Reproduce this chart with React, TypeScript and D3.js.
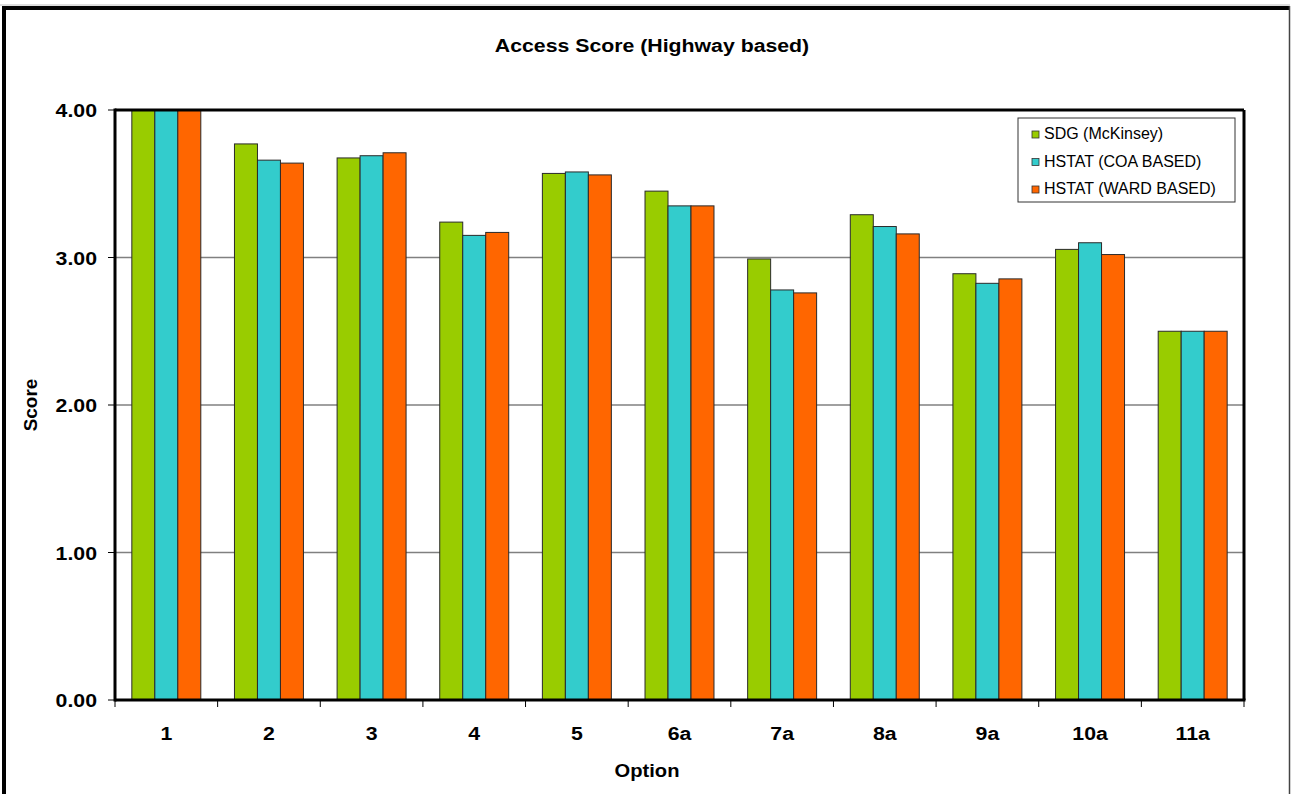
import React from "react";
import * as d3 from "d3";

const categories = ["1", "2", "3", "4", "5", "6a", "7a", "8a", "9a", "10a", "11a"];
const seriesNames = ["SDG (McKinsey)", "HSTAT (COA BASED)", "HSTAT (WARD BASED)"];
const sdg = [4.0, 3.77, 3.675, 3.24, 3.57, 3.45, 2.99, 3.29, 2.89, 3.055, 2.5];
const coa = [4.0, 3.66, 3.69, 3.15, 3.58, 3.35, 2.78, 3.21, 2.825, 3.1, 2.5];
const ward = [4.0, 3.64, 3.71, 3.17, 3.56, 3.35, 2.76, 3.16, 2.855, 3.02, 2.5];
const colors = ["#99CC00", "#33CCCC", "#FF6600"];
const yTicks = [0, 1, 2, 3, 4];

const font = "'Liberation Sans', Arial, sans-serif";

function SText(props: { x: number; y: number; size: number; anchor?: string; sx?: number; rot?: number; weight?: string; children: React.ReactNode }) {
  const { x, y, size, anchor = "middle", sx = 1.12, rot = 0, weight = "bold", children } = props;
  return (
    <text
      transform={`translate(${x},${y}) rotate(${rot}) scale(${sx},1)`}
      textAnchor={anchor as any}
      fontFamily={font}
      fontWeight={weight}
      fontSize={size}
      fill="#000"
    >
      {children}
    </text>
  );
}

export default function App() {
  const W = 1296, H = 794;
  const left = 115, right = 1244, top = 110, bottom = 700;
  const x = d3.scaleBand<string>().domain(categories).range([left, right]).paddingInner(0).paddingOuter(0);
  const groupFrac = 0.672;
  const inner = d3.scaleBand<number>().domain([0, 1, 2]).range([0, x.bandwidth() * groupFrac]);
  const offset = (x.bandwidth() - x.bandwidth() * groupFrac) / 2;
  const y = d3.scaleLinear().domain([0, 4]).range([bottom, top]);
  const series = [sdg, coa, ward];

  return (
    <svg width={W} height={H} style={{ position: "absolute", left: 0, top: 0, background: "#fff" }}>
      <rect x={0} y={0} width={W} height={H} fill="#fff" />
      {/* outer frame */}
      <line x1={0} y1={5} x2={1290} y2={5} stroke="#bbb" strokeWidth={1} />
      <line x1={4} y1={6} x2={4} y2={H} stroke="#000" strokeWidth={4} />
      <line x1={2} y1={8} x2={1290} y2={8} stroke="#000" strokeWidth={4} />
      <line x1={1289.5} y1={6} x2={1289.5} y2={H} stroke="#444" strokeWidth={1.5} />

      <SText x={652} y={52} size={19}>Access Score (Highway based)</SText>

      {/* gridlines */}
      {yTicks.filter((t) => t > 0 && t < 4).map((t) => (
        <line key={t} x1={left} x2={right} y1={y(t)} y2={y(t)} stroke="#808080" strokeWidth={1.5} />
      ))}

      {/* bars */}
      {categories.map((c, i) => (
        <g key={c}>
          {series.map((s, k) => (
            <rect
              key={k}
              x={(x(c) as number) + offset + (inner(k) as number)}
              y={y(s[i])}
              width={inner.bandwidth()}
              height={y(0) - y(s[i])}
              fill={colors[k]}
              stroke="#2a2a2a"
              strokeWidth={1}
            />
          ))}
        </g>
      ))}

      {/* plot border */}
      <line x1={left} x2={right} y1={top} y2={top} stroke="#000" strokeWidth={3} />
      <line x1={right} x2={right} y1={top} y2={bottom} stroke="#000" strokeWidth={3} />
      <line x1={left} x2={left} y1={top - 1.5} y2={bottom + 1.5} stroke="#000" strokeWidth={3} />
      <line x1={left} x2={right + 1.5} y1={bottom} y2={bottom} stroke="#000" strokeWidth={3} />

      {/* y ticks */}
      {yTicks.map((t) => (
        <g key={t}>
          <line x1={left - 7} x2={left} y1={y(t)} y2={y(t)} stroke="#000" strokeWidth={1} />
          <SText x={97} y={y(t) + 7} size={19} anchor="end">{t.toFixed(2)}</SText>
        </g>
      ))}

      {/* x ticks */}
      {categories.map((c) => (
        <line key={"t" + c} x1={x(c) as number} x2={x(c) as number} y1={bottom} y2={bottom + 7} stroke="#000" strokeWidth={1} />
      ))}
      <line x1={right} x2={right} y1={bottom} y2={bottom + 7} stroke="#000" strokeWidth={1} />
      {categories.map((c) => (
        <SText key={"l" + c} x={(x(c) as number) + x.bandwidth() / 2} y={740} size={19}>{c}</SText>
      ))}

      <SText x={647} y={777} size={18}>Option</SText>
      <SText x={37} y={405} size={18} rot={-90} sx={1.05}>Score</SText>

      {/* legend */}
      <rect x={1018} y={118} width={217} height={84} fill="#fff" stroke="#333" strokeWidth={1} />
      {seriesNames.map((n, k) => (
        <g key={n}>
          <rect x={1032} y={131 + k * 27.5} width={7} height={7} fill={colors[k]} stroke="#333" strokeWidth={0.8} />
          <text x={1044} y={139 + k * 27.5} fontFamily={font} fontSize={16} fill="#000">
            {n}
          </text>
        </g>
      ))}
    </svg>
  );
}
